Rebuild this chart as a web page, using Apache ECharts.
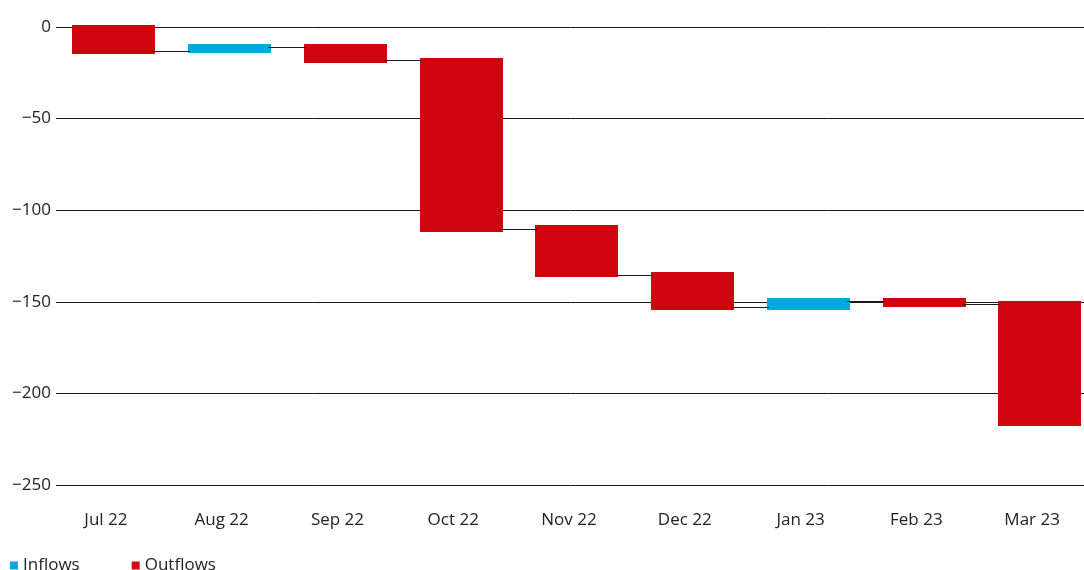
<!DOCTYPE html>
<html>
<head>
<meta charset="utf-8">
<script src="https://cdn.jsdelivr.net/npm/echarts@6/dist/echarts.min.js"></script>
<style>
html,body{margin:0;padding:0;background:#fff;}
#chart{width:1084px;height:570px;}
</style>
</head>
<body>
<div id="chart"></div>
<script>
const categories = ['Jul 22','Aug 22','Sep 22','Oct 22','Nov 22','Dec 22','Jan 23','Feb 23','Mar 23'];
const barTop     = [1.3, -9.4, -9.4, -16.7, -108.2, -133.7, -148.0, -148.0, -149.6];
const barBottom  = [-14.5, -14.5, -19.8, -111.5, -136.6, -154.7, -154.7, -152.9, -217.7];
const flowType   = ['Outflows','Inflows','Outflows','Outflows','Outflows','Outflows','Inflows','Outflows','Outflows'];
const connectorLevel = [-12.9, -10.9, -18.2, -110.0, -135.1, -153.1, -149.3, -151.1];
const yTicks = { min: -250, max: 0, interval: 50 };

const RED = '#d0060e', BLUE = '#00a9e0', TEXT = '#222';
const FONT = '"Open Sans", "Noto Sans", sans-serif';

function seriesData(type) {
  const out = [];
  categories.forEach((c, i) => {
    if (flowType[i] === type) out.push([i, barTop[i], barBottom[i]]);
  });
  return out;
}

function renderBar(params, api) {
  const x = api.value(0);
  const p1 = api.coord([x, api.value(1)]);
  const p2 = api.coord([x, api.value(2)]);
  const w = api.size([1, 0])[0] * 0.72;
  return {
    type: 'rect',
    shape: { x: Math.round(p1[0] - w / 2), y: Math.round(p1[1]), width: Math.round(w), height: Math.round(p2[1] - p1[1]) },
    style: api.style()
  };
}

function renderConnector(params, api) {
  const i = api.value(0);
  const lvl = api.value(1);
  const a = api.coord([i, lvl]);
  const b = api.coord([i + 1, lvl]);
  const w = api.size([1, 0])[0] * 0.72;
  const y = Math.round(a[1]) + 0.5;
  return {
    type: 'line',
    shape: { x1: a[0] + w / 2 - 3, y1: y, x2: b[0] - w / 2 + 2, y2: y },
    style: { stroke: '#1a1a1a', lineWidth: 1 }
  };
}

const chart = echarts.init(document.getElementById('chart'), null, { renderer: 'canvas' });
chart.setOption({
  animation: false,
  backgroundColor: '#fff',
  textStyle: { fontFamily: FONT },
  grid: { left: 56, top: 27, width: 1042, height: 458, containLabel: false, outerBoundsMode: 'none' },
  legend: {
    left: 5, top: 552,
    itemWidth: 8, itemHeight: 8, itemGap: 52,
    icon: 'rect',
    textStyle: { fontFamily: FONT, fontSize: 17, color: TEXT },
    data: ['Inflows', 'Outflows']
  },
  xAxis: {
    type: 'category',
    data: categories,
    axisLine: { show: false },
    axisTick: { show: false },
    splitLine: { show: false },
    axisLabel: { fontFamily: FONT, fontSize: 17, color: TEXT, margin: 27, padding: [0, 16, 0, 0] }
  },
  yAxis: {
    type: 'value',
    min: yTicks.min, max: yTicks.max, interval: yTicks.interval,
    axisLine: { show: false },
    axisTick: { show: false },
    splitLine: { show: true, lineStyle: { color: '#1a1a1a', width: 1 } },
    axisLabel: {
      fontFamily: FONT, fontSize: 17, color: TEXT, margin: 5,
      formatter: v => String(v).replace('-', '\u2212')
    }
  },
  series: [
    { name: 'Inflows', type: 'custom', renderItem: renderBar, itemStyle: { color: BLUE },
      encode: { x: 0, y: [1, 2] }, data: seriesData('Inflows'), z: 3 },
    { name: 'Outflows', type: 'custom', renderItem: renderBar, itemStyle: { color: RED },
      encode: { x: 0, y: [1, 2] }, data: seriesData('Outflows'), z: 3 },
    { name: 'connectors', type: 'custom', renderItem: renderConnector,
      encode: { x: 0, y: 1 }, data: connectorLevel.map((v, i) => [i, v]), z: 4 }
  ]
});
</script>
</body>
</html>
